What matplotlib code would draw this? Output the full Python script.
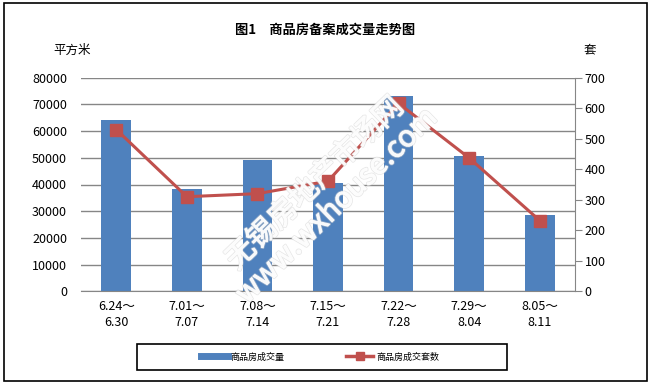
import matplotlib.pyplot as plt
import matplotlib.patheffects as pe
from matplotlib.lines import Line2D
from matplotlib.patches import Rectangle
import numpy as np

plt.rcParams['font.family'] = ['Noto Sans CJK SC', 'DejaVu Sans']

# data
weeks = ['6.24～\n6.30', '7.01～\n7.07', '7.08～\n7.14', '7.15～\n7.21',
         '7.22～\n7.28', '7.29～\n8.04', '8.05～\n8.11']
area = [64300, 38500, 49000, 40700, 73300, 50800, 28400]   # 平方米
units = [530, 310, 320, 361, 616, 437, 232]                 # 套

bar_color = '#4F81BD'
line_color = '#C0504D'
grid_color = '#868686'

fig = plt.figure(figsize=(6.5, 3.84), dpi=100)
fig.patch.set_facecolor('white')

# outer frame
fig.patches.append(Rectangle((4 / 650, 1 - 381 / 384), 643 / 650, 378 / 384,
                             transform=fig.transFigure, fill=False,
                             edgecolor='black', linewidth=1.2))

ax = fig.add_axes([81 / 650, 92.7 / 384, 494 / 650, 213.6 / 384])
x = np.arange(len(weeks))
ax.bar(x, area, width=0.42, color=bar_color, zorder=2)
ax.set_xlim(-0.5, len(weeks) - 0.5)
ax.set_ylim(0, 80000)
ax.set_yticks(range(0, 80001, 10000))
ax.yaxis.grid(True, color=grid_color, linewidth=1)
ax.set_axisbelow(True)
ax.set_xticks(x)
ax.set_xticklabels(weeks, fontsize=9, linespacing=1.3)
ax.tick_params(axis='x', length=0, pad=6)
ax.tick_params(axis='y', length=0, labelsize=9, pad=10)
for s in ['top', 'left', 'right']:
    ax.spines[s].set_visible(False)
ax.spines['bottom'].set_color(grid_color)

ax2 = ax.twinx()
ax2.plot(x, units, color=line_color, linewidth=2.2, marker='s',
         markersize=8, zorder=3)
ax2.set_ylim(0, 700)
ax2.set_yticks(range(0, 701, 100))
ax2.tick_params(axis='y', length=5, color=grid_color, labelsize=9, pad=2)
for s in ['top', 'left', 'bottom']:
    ax2.spines[s].set_visible(False)
ax2.spines['right'].set_color(grid_color)

# watermark: hollow outlined letters
wm = fig.text(326 / 650, 1 - 195 / 384, '无锡房地产市场网\nwww.wxhouse.com',
              rotation=44, ha='center', va='center', fontsize=21,
              color=(1, 1, 1, 0.15), linespacing=1.05, zorder=5)
wm.set_path_effects([pe.Stroke(linewidth=1.8, foreground='#d0d0d0', alpha=0.5),
                     pe.Stroke(linewidth=0.7, foreground='white', alpha=0.9)])

fig.text(325 / 650, 1 - 30 / 384, '图1　商品房备案成交量走势图', ha='center',
         va='center', fontsize=9.5, fontweight='bold')
fig.text(72 / 650, 1 - 50 / 384, '平方米', ha='center', va='center', fontsize=9)
fig.text(590 / 650, 1 - 50 / 384, '套', ha='center', va='center', fontsize=9)

# legend box
fig.patches.append(Rectangle((137 / 650, 1 - 370 / 384), 370 / 650, 26 / 384,
                             transform=fig.transFigure, fill=False,
                             edgecolor='black', linewidth=1.2))
handles = [Line2D([], [], color=bar_color, linewidth=5),
           Line2D([], [], color=line_color, linewidth=2.5, marker='s', markersize=6)]
fig.legend(handles, ['商品房成交量', '商品房成交套数'], ncol=2,
           loc='center left', bbox_to_anchor=(201 / 650, 1 - 357 / 384),
           fontsize=6.5, frameon=False, borderpad=0, borderaxespad=0,
           handlelength=3.0, handletextpad=0.3, columnspacing=6.8)

fig.savefig('out.png', dpi=100)
